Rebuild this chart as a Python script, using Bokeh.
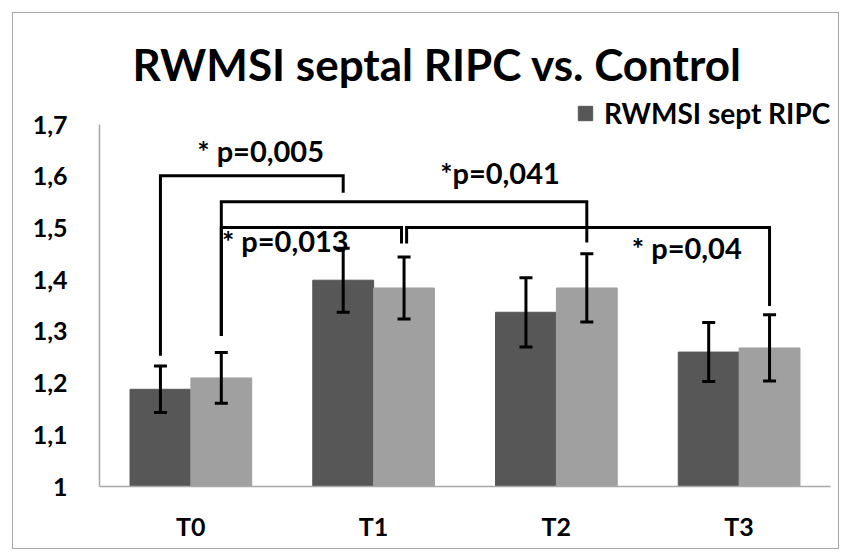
from bokeh.plotting import figure
from bokeh.models import Range1d, FixedTicker, Whisker, ColumnDataSource, TeeHead, Legend, LegendItem
from bokeh.core.properties import value
from bokeh.embed import file_html
from bokeh.resources import INLINE

# ---------------- data ----------------
categories = ["T0", "T1", "T2", "T3"]
ripc_means = [1.188, 1.399, 1.337, 1.260]
ripc_sd = [0.045, 0.062, 0.067, 0.057]
control_means = [1.210, 1.384, 1.384, 1.268]
control_sd = [0.049, 0.060, 0.066, 0.064]
y_ticks = [1.0, 1.1, 1.2, 1.3, 1.4, 1.5, 1.6, 1.7]
y_tick_labels = ["1", "1,1", "1,2", "1,3", "1,4", "1,5", "1,6", "1,7"]
legend_text = "RWMSI sept RIPC"
title_text = "RWMSI septal RIPC vs. Control"

# significance comparisons: (category, series index 0=RIPC 1=Control)
cmp_from = [("T0", 0), ("T0", 1), ("T0", 1), ("T1", 1)]
cmp_to = [("T1", 0), ("T2", 1), ("T1", 1), ("T3", 1)]
p_labels = ["* p=0,005", "*p=0,041", "* p=0,013", "* p=0,04"]

# ---------------- layout / style ----------------
bar_w = 0.333
dark = "#575757"
light = "#a0a0a0"
font = "Lato"
bracket_top = [1.601, 1.551, 1.501, 1.501]
bracket_drop_from = [1.253, 1.291, 1.291, 1.470]
bracket_drop_to = [1.568, 1.472, 1.470, 1.349]
bracket_nudge_from = [0.0, 0.0, 0.0, 0.014]
bracket_nudge_to = [0.0, 0.0, -0.014, 0.0]
label_x = [0.535, 1.864, 0.670, 2.913]
label_y = [1.649, 1.607, 1.475, 1.462]

PX_PER_UNIT = 517.0
FRAME_L, FRAME_T = 86, 78
FRAME_W, FRAME_H = 731, 395
FRAME_R, FRAME_B = 10, 64
W = FRAME_L + FRAME_W + FRAME_R
H = FRAME_T + FRAME_H + FRAME_B
y_end = 1.0 + FRAME_H / PX_PER_UNIT

p = figure(width=W, height=H, x_range=Range1d(0, 4), y_range=Range1d(1.0, y_end),
           output_backend="svg", toolbar_location=None,
           min_border_left=FRAME_L, min_border_right=FRAME_R,
           min_border_top=FRAME_T, min_border_bottom=FRAME_B,
           margin=(12, 0, 0, 12))
p.styles = {"border": "1px solid #a8a8a8"}
p.outline_line_color = None
p.xgrid.visible = False
p.ygrid.visible = False

cat_idx = {c: i for i, c in enumerate(categories)}


def bar_x(cat, series):
    return cat_idx[cat] + 0.5 + (series - 0.5) * bar_w


src_r = ColumnDataSource(dict(
    x=[bar_x(c, 0) for c in categories], top=ripc_means,
    upper=[m + s for m, s in zip(ripc_means, ripc_sd)],
    lower=[m - s for m, s in zip(ripc_means, ripc_sd)]))
src_c = ColumnDataSource(dict(
    x=[bar_x(c, 1) for c in categories], top=control_means,
    upper=[m + s for m, s in zip(control_means, control_sd)],
    lower=[m - s for m, s in zip(control_means, control_sd)]))

r_ripc = p.vbar(x="x", top="top", bottom=1.0, width=bar_w, source=src_r,
                fill_color=dark, line_color=dark)
p.vbar(x="x", top="top", bottom=1.0, width=bar_w, source=src_c,
       fill_color=light, line_color=light)

for src in (src_r, src_c):
    w = Whisker(base="x", upper="upper", lower="lower", source=src,
                line_color="black", line_width=3, level="annotation",
                upper_head=TeeHead(size=13, line_width=3, line_color="black"),
                lower_head=TeeHead(size=13, line_width=3, line_color="black"))
    p.add_layout(w)

xs, ys = [], []
for i in range(len(cmp_from)):
    x1 = bar_x(*cmp_from[i]) + bracket_nudge_from[i]
    x2 = bar_x(*cmp_to[i]) + bracket_nudge_to[i]
    xs.append([x1, x1, x2, x2])
    ys.append([bracket_drop_from[i], bracket_top[i], bracket_top[i], bracket_drop_to[i]])
p.multi_line(xs=xs, ys=ys, line_color="black", line_width=3, line_join="miter")

p.text(x=label_x, y=label_y, text=p_labels, text_font=value(font),
       text_font_size="29px", text_font_style="bold", text_color="black",
       text_align="left", text_baseline="middle")

# axes
p.yaxis.ticker = FixedTicker(ticks=y_ticks)
p.yaxis.major_label_overrides = dict(zip(y_ticks, y_tick_labels))
p.yaxis.bounds = (y_ticks[0], y_ticks[-1])
p.xaxis.ticker = FixedTicker(ticks=[cat_idx[c] + 0.5 for c in categories])
p.xaxis.major_label_overrides = {cat_idx[c] + 0.5: c for c in categories}
for ax in (p.xaxis, p.yaxis):
    ax.axis_line_color = "#a8a8a8"
    ax.axis_line_width = 1.5
    ax.major_tick_line_color = None
    ax.minor_tick_line_color = None
    ax.major_tick_out = 0
    ax.major_tick_in = 0
    ax.minor_tick_out = 0
    ax.minor_tick_in = 0
    ax.major_label_text_font = font
    ax.major_label_text_font_size = "25px"
    ax.major_label_text_font_style = "bold"
    ax.major_label_text_color = "black"
p.yaxis.major_label_standoff = 32
p.xaxis.major_label_standoff = 24

# legend (upper right, above the 1,7 level)
lg = Legend(items=[LegendItem(label=legend_text, renderers=[r_ripc])],
            location=(477, FRAME_H - 39))
lg.background_fill_alpha = 0
lg.border_line_color = None
lg.padding = 0
lg.margin = 0
lg.glyph_width = 18
lg.glyph_height = 18
lg.label_standoff = 10
lg.label_text_font = font
lg.label_text_font_size = "28px"
lg.label_text_font_style = "bold"
lg.label_text_color = "black"
p.add_layout(lg)

# title
p.title.text = title_text
p.title.text_font = font
p.title.text_font_size = "44px"
p.title.text_font_style = "bold"
p.title.text_color = "black"
p.title.align = "left"
p.title.offset = 33
p.title.standoff = 4

open("out.html", "w").write(file_html(p, INLINE))
